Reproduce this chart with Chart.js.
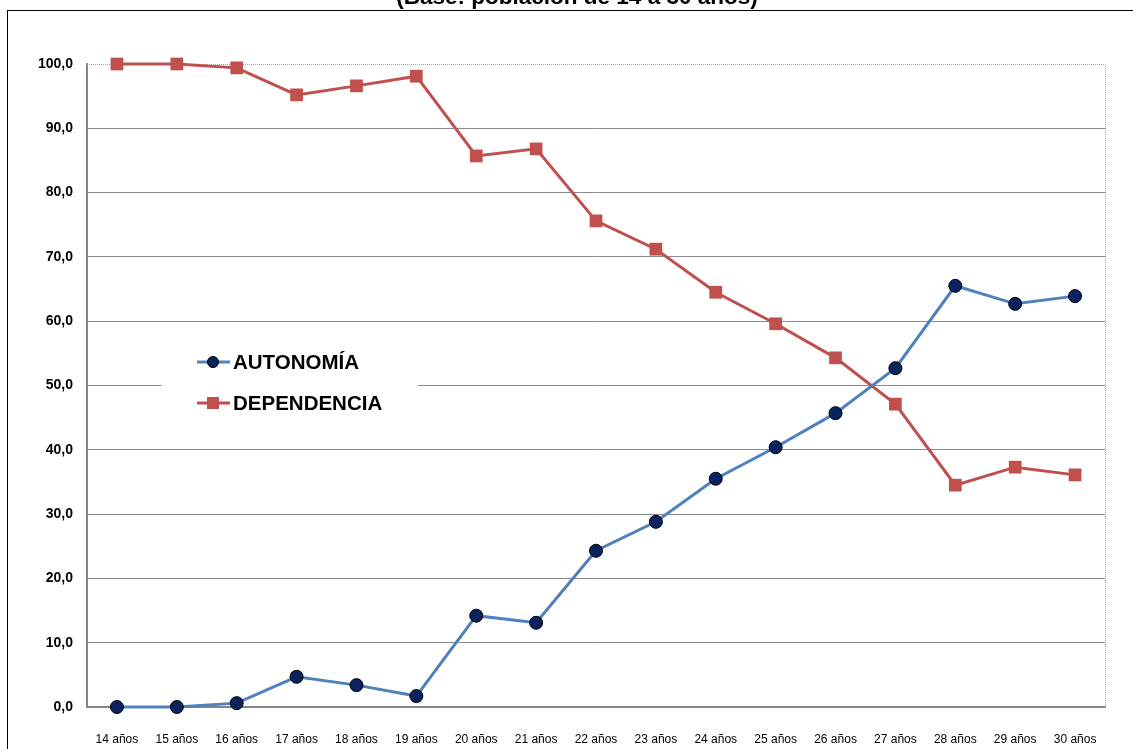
<!DOCTYPE html>
<html>
<head>
<meta charset="utf-8">
<script src="https://cdn.jsdelivr.net/npm/chart.js@4/dist/chart.umd.min.js"></script>
<style>
html,body{margin:0;padding:0;background:#fff;}
#wrap{position:relative;width:1133px;height:749px;}
</style>
</head>
<body>
<div id="wrap"><canvas id="c" width="1133" height="749"></canvas></div>
<script>
const titleText = "(Base: población de 14 a 30 años)";
const categories = ["14 años","15 años","16 años","17 años","18 años","19 años","20 años","21 años","22 años","23 años","24 años","25 años","26 años","27 años","28 años","29 años","30 años"];
const autonomia = [0.0, 0.0, 0.6, 4.7, 3.4, 1.7, 14.2, 13.1, 24.3, 28.8, 35.5, 40.4, 45.7, 52.7, 65.5, 62.7, 63.9];
const dependencia = [100.0, 100.0, 99.4, 95.2, 96.6, 98.1, 85.7, 86.8, 75.6, 71.2, 64.5, 59.6, 54.3, 47.1, 34.5, 37.3, 36.1];
const seriesNames = ["AUTONOMÍA", "DEPENDENCIA"];

const FONT = "'Liberation Sans', Arial, sans-serif";

const decor = {
  id: 'decor',
  beforeDraw(chart) {
    const ctx = chart.ctx;
    ctx.save();
    ctx.fillStyle = '#fff';
    ctx.fillRect(0, 0, chart.width, chart.height);
    ctx.restore();
  },
  beforeDatasetsDraw(chart) {
    const ctx = chart.ctx;
    const a = chart.chartArea;
    ctx.save();
    ctx.strokeStyle = '#8EA6CC';
    ctx.lineWidth = 1;
    ctx.setLineDash([1, 1]);
    ctx.beginPath();
    ctx.moveTo(a.left, a.top + 0.5);
    ctx.lineTo(a.right + 0.5, a.top + 0.5);
    ctx.lineTo(a.right + 0.5, a.bottom);
    ctx.stroke();
    ctx.setLineDash([]);
    ctx.restore();
  },
  afterDraw(chart) {
    const ctx = chart.ctx;
    ctx.save();
    ctx.strokeStyle = '#000';
    ctx.lineWidth = 1;
    ctx.strokeRect(7.5, 10.5, 1300, 900);
    ctx.fillStyle = '#000';
    ctx.font = "bold 22.5px " + FONT;
    ctx.textAlign = 'center';
    ctx.textBaseline = 'alphabetic';
    ctx.fillText(titleText, 577, 4);
    ctx.fillStyle = '#fff';
    ctx.fillRect(162, 342, 256, 82);
    const ds = chart.data.datasets;
    const ys = [362, 403];
    ds.forEach((d, i) => {
      const y = ys[i];
      ctx.strokeStyle = d.borderColor;
      ctx.lineWidth = 3;
      ctx.beginPath();
      ctx.moveTo(197, y);
      ctx.lineTo(230, y);
      ctx.stroke();
      ctx.fillStyle = d.pointBackgroundColor;
      if (d.pointStyle === 'circle') {
        ctx.beginPath();
        ctx.arc(213, y, 5.5, 0, Math.PI * 2);
        ctx.fill();
        ctx.strokeStyle = d.pointBorderColor;
        ctx.lineWidth = 1;
        ctx.stroke();
      } else {
        ctx.fillRect(207, y - 6, 12, 12);
      }
      ctx.fillStyle = '#000';
      ctx.font = "bold 20.5px " + FONT;
      ctx.textAlign = 'left';
      ctx.textBaseline = 'middle';
      ctx.fillText(d.label, 233, y + 1);
    });
    ctx.restore();
  }
};

new Chart(document.getElementById('c'), {
  type: 'line',
  data: {
    labels: categories,
    datasets: [
      {
        label: seriesNames[0],
        data: autonomia,
        borderColor: '#4F81BD',
        backgroundColor: '#4F81BD',
        borderWidth: 3,
        pointStyle: 'circle',
        pointRadius: 6.5,
        pointBackgroundColor: '#0B2260',
        pointBorderColor: '#000000',
        pointBorderWidth: 1,
        tension: 0,
        clip: false
      },
      {
        label: seriesNames[1],
        data: dependencia,
        borderColor: '#C0504D',
        backgroundColor: '#C0504D',
        borderWidth: 3,
        pointStyle: 'rect',
        pointRadius: 9,
        pointBackgroundColor: '#C0504D',
        pointBorderColor: '#C0504D',
        pointBorderWidth: 0,
        tension: 0,
        clip: false
      }
    ]
  },
  options: {
    responsive: false,
    animation: false,
    devicePixelRatio: 1,
    layout: { padding: { left: 0, top: 64, right: 28, bottom: 0 } },
    plugins: {
      legend: { display: false },
      title: { display: false },
      tooltip: { enabled: false }
    },
    scales: {
      x: {
        offset: true,
        grid: { display: false },
        border: { display: true, color: '#868686', width: 2 },
        ticks: {
          color: '#000',
          font: { family: FONT, size: 12 },
          padding: 17,
          maxRotation: 0,
          autoSkip: false
        },
        afterFit(scale) { scale.height = 42; }
      },
      y: {
        min: 0,
        max: 100,
        grid: {
          color: (c) => (c.tick && c.tick.value === 100) ? 'rgba(0,0,0,0)' : '#8C8C8C',
          lineWidth: 1,
          drawTicks: false
        },
        border: { display: true, color: '#868686', width: 2 },
        ticks: {
          stepSize: 10,
          color: '#000',
          font: { family: FONT, size: 14, weight: 'bold' },
          padding: 14,
          callback: (v) => v.toFixed(1).replace('.', ',')
        },
        afterFit(scale) { scale.width = 87; }
      }
    }
  },
  plugins: [decor]
});
</script>
</body>
</html>
